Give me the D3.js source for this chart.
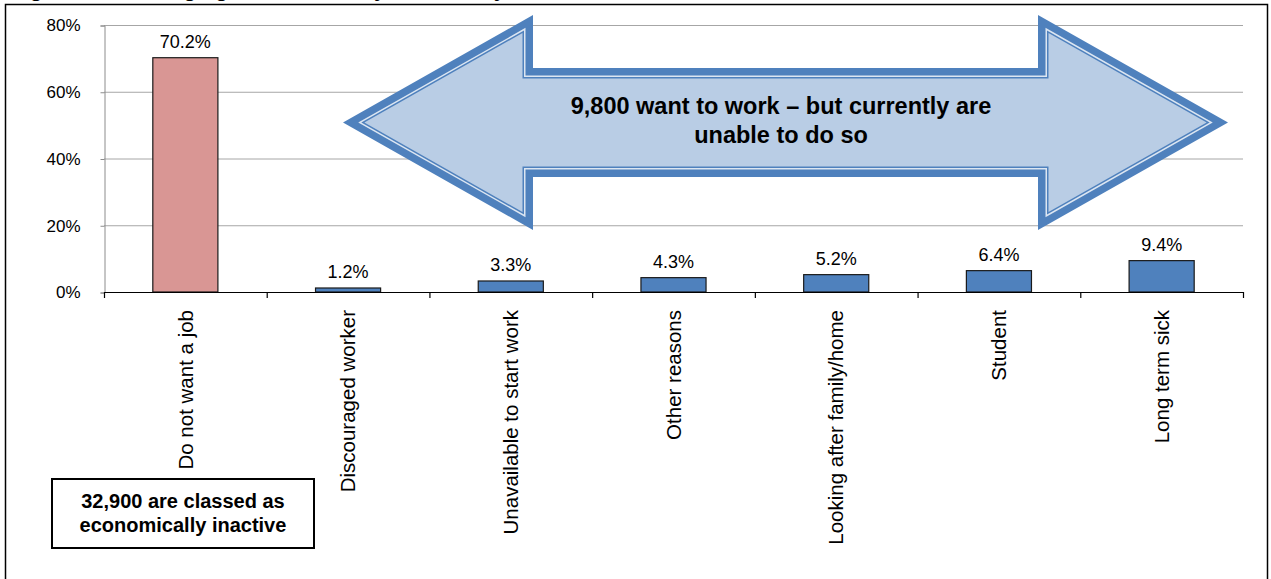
<!DOCTYPE html>
<meta charset="utf-8">
<style>
    body { margin: 0; background: #fff; }
    text { font-family: Arial, "Liberation Sans", sans-serif; }
</style>
<script src="https://d3js.org/d3.v7.min.js"></script>
<div id="chart"></div>
<script>
    // data
    var categories = ["Do not want a job", "Discouraged worker", "Unavailable to start work",
        "Other reasons", "Looking after family/home", "Student", "Long term sick"];
    var values = [70.2, 1.2, 3.3, 4.3, 5.2, 6.4, 9.4];
    var yTicks = [0, 20, 40, 60, 80];
    var arrowText = ["9,800 want to work \u2013 but currently are", "unable to do so"];
    var boxText = ["32,900 are classed as", "economically inactive"];

    var width = 1271, height = 579;
    var plotLeft = 104, plotRight = 1243, plotTop = 25, plotBottom = 292;

    var svg = d3.select("#chart").append("svg").attr("width", width).attr("height", height);

    // title (cut off at the top of the picture, only descenders show)
    svg.append("text").attr("x", 10).attr("y", -4)
        .attr("font-size", "22px").attr("font-weight", "bold")
        .text("Figure 9: Working age economically inactive by reason");

    // outer frame
    svg.append("rect").attr("x", 5.5).attr("y", 4.5).attr("width", 1262).attr("height", 600)
        .attr("fill", "none").attr("stroke", "#000").attr("stroke-width", 1.5);

    var x = d3.scaleBand().domain(categories).range([plotLeft, plotRight]).paddingInner(0).paddingOuter(0);
    var y = d3.scaleLinear().domain([0, 80]).range([plotBottom, plotTop]);

    // gridlines
    svg.append("g").selectAll("line").data(yTicks.filter(function(d) { return d > 0; }))
        .enter().append("line")
        .attr("x1", plotLeft).attr("x2", plotRight)
        .attr("y1", function(d) { return y(d) + 0.5; }).attr("y2", function(d) { return y(d) + 0.5; })
        .attr("stroke", "#a6a6a6").attr("stroke-width", 1);

    // y axis
    var yAxis = d3.axisLeft(y).tickValues(yTicks).tickSize(4).tickPadding(20)
        .tickFormat(function(d) { return d + "%"; });
    var gy = svg.append("g").attr("transform", "translate(" + (plotLeft + 0.5) + ",0.5)").call(yAxis);
    gy.select(".domain").attr("stroke", "#8c8c8c");
    gy.selectAll(".tick line").attr("stroke", "#8c8c8c");
    gy.selectAll(".tick text").attr("font-size", "17px").attr("fill", "#000")
        .attr("font-family", "Arial, 'Liberation Sans', sans-serif");

    // bars
    svg.append("g").selectAll("rect").data(values).enter().append("rect")
        .attr("x", function(d, i) { return x(categories[i]) + x.bandwidth() * 0.3; })
        .attr("y", function(d) { return y(d); })
        .attr("width", x.bandwidth() * 0.4)
        .attr("height", function(d) { return y(0) - y(d); })
        .attr("fill", function(d, i) { return i === 0 ? "#d99694" : "#4f81bd"; })
        .attr("stroke", "#1a1a1a").attr("stroke-width", 1.2);

    // value labels
    svg.append("g").selectAll("text").data(values).enter().append("text")
        .attr("x", function(d, i) { return x(categories[i]) + x.bandwidth() / 2; })
        .attr("y", function(d) { return y(d) - 10; })
        .attr("text-anchor", "middle").attr("font-size", "18px")
        .text(function(d) { return d.toFixed(1) + "%"; });

    // x axis line + ticks at band edges
    svg.append("line").attr("x1", plotLeft).attr("x2", plotRight + 1)
        .attr("y1", plotBottom + 0.5).attr("y2", plotBottom + 0.5)
        .attr("stroke", "#000").attr("stroke-width", 1.2);
    var edges = categories.map(function(c) { return x(c); }).concat([plotRight]);
    svg.append("g").selectAll("line").data(edges).enter().append("line")
        .attr("x1", function(d) { return d + 0.5; }).attr("x2", function(d) { return d + 0.5; })
        .attr("y1", plotBottom).attr("y2", plotBottom + 6)
        .attr("stroke", "#000").attr("stroke-width", 1.2);

    // category labels (rotated)
    svg.append("g").selectAll("text").data(categories).enter().append("text")
        .attr("transform", function(d) {
            return "translate(" + (x(d) + x.bandwidth() / 2) + "," + (plotBottom + 18) + ") rotate(-90)";
        })
        .attr("dy", "0.35em")
        .attr("text-anchor", "end").attr("font-size", "20.5px")
        .text(function(d) { return d; });

    // double headed arrow annotation
    var ax = { xL: 343, xR: 1228, bL: 533, bR: 1038, yc: 122.5, hh: 107.5, sh: 54.5 };
    function arrowPts(d) {
        var k = ax.hh / (ax.bL - ax.xL);
        var s = Math.sin(Math.atan(k));
        var tipIn = d / s;
        var yHead = ax.yc - (ax.bL - d - ax.xL - tipIn) * k;
        var dh = ax.yc - yHead;
        var yS = ax.sh - d;
        return [
            [ax.xL + tipIn, ax.yc],
            [ax.bL - d, ax.yc - dh],
            [ax.bL - d, ax.yc - yS],
            [ax.bR + d, ax.yc - yS],
            [ax.bR + d, ax.yc - dh],
            [ax.xR - tipIn, ax.yc],
            [ax.bR + d, ax.yc + dh],
            [ax.bR + d, ax.yc + yS],
            [ax.bL - d, ax.yc + yS],
            [ax.bL - d, ax.yc + dh]
        ];
    }
    var line = d3.line().curve(d3.curveLinearClosed);
    var layers = [[0, "#4f81bd"], [7.5, "#dce6f2"], [9, "#4f81bd"], [10.5, "#b9cde5"]];
    svg.append("g").selectAll("path").data(layers).enter().append("path")
        .attr("d", function(d) { return line(arrowPts(d[0])); })
        .attr("fill", function(d) { return d[1]; });

    svg.append("g").selectAll("text").data(arrowText).enter().append("text")
        .attr("x", 781).attr("y", function(d, i) { return 114 + i * 29; })
        .attr("text-anchor", "middle").attr("font-size", "23.5px").attr("font-weight", "bold")
        .text(function(d) { return d; });

    // text box
    svg.append("rect").attr("x", 52).attr("y", 479).attr("width", 262).attr("height", 69)
        .attr("fill", "#fff").attr("stroke", "#000").attr("stroke-width", 2);
    svg.append("g").selectAll("text").data(boxText).enter().append("text")
        .attr("x", 183).attr("y", function(d, i) { return 508 + i * 24; })
        .attr("text-anchor", "middle").attr("font-size", "20px").attr("font-weight", "bold")
        .text(function(d) { return d; });
</script>
